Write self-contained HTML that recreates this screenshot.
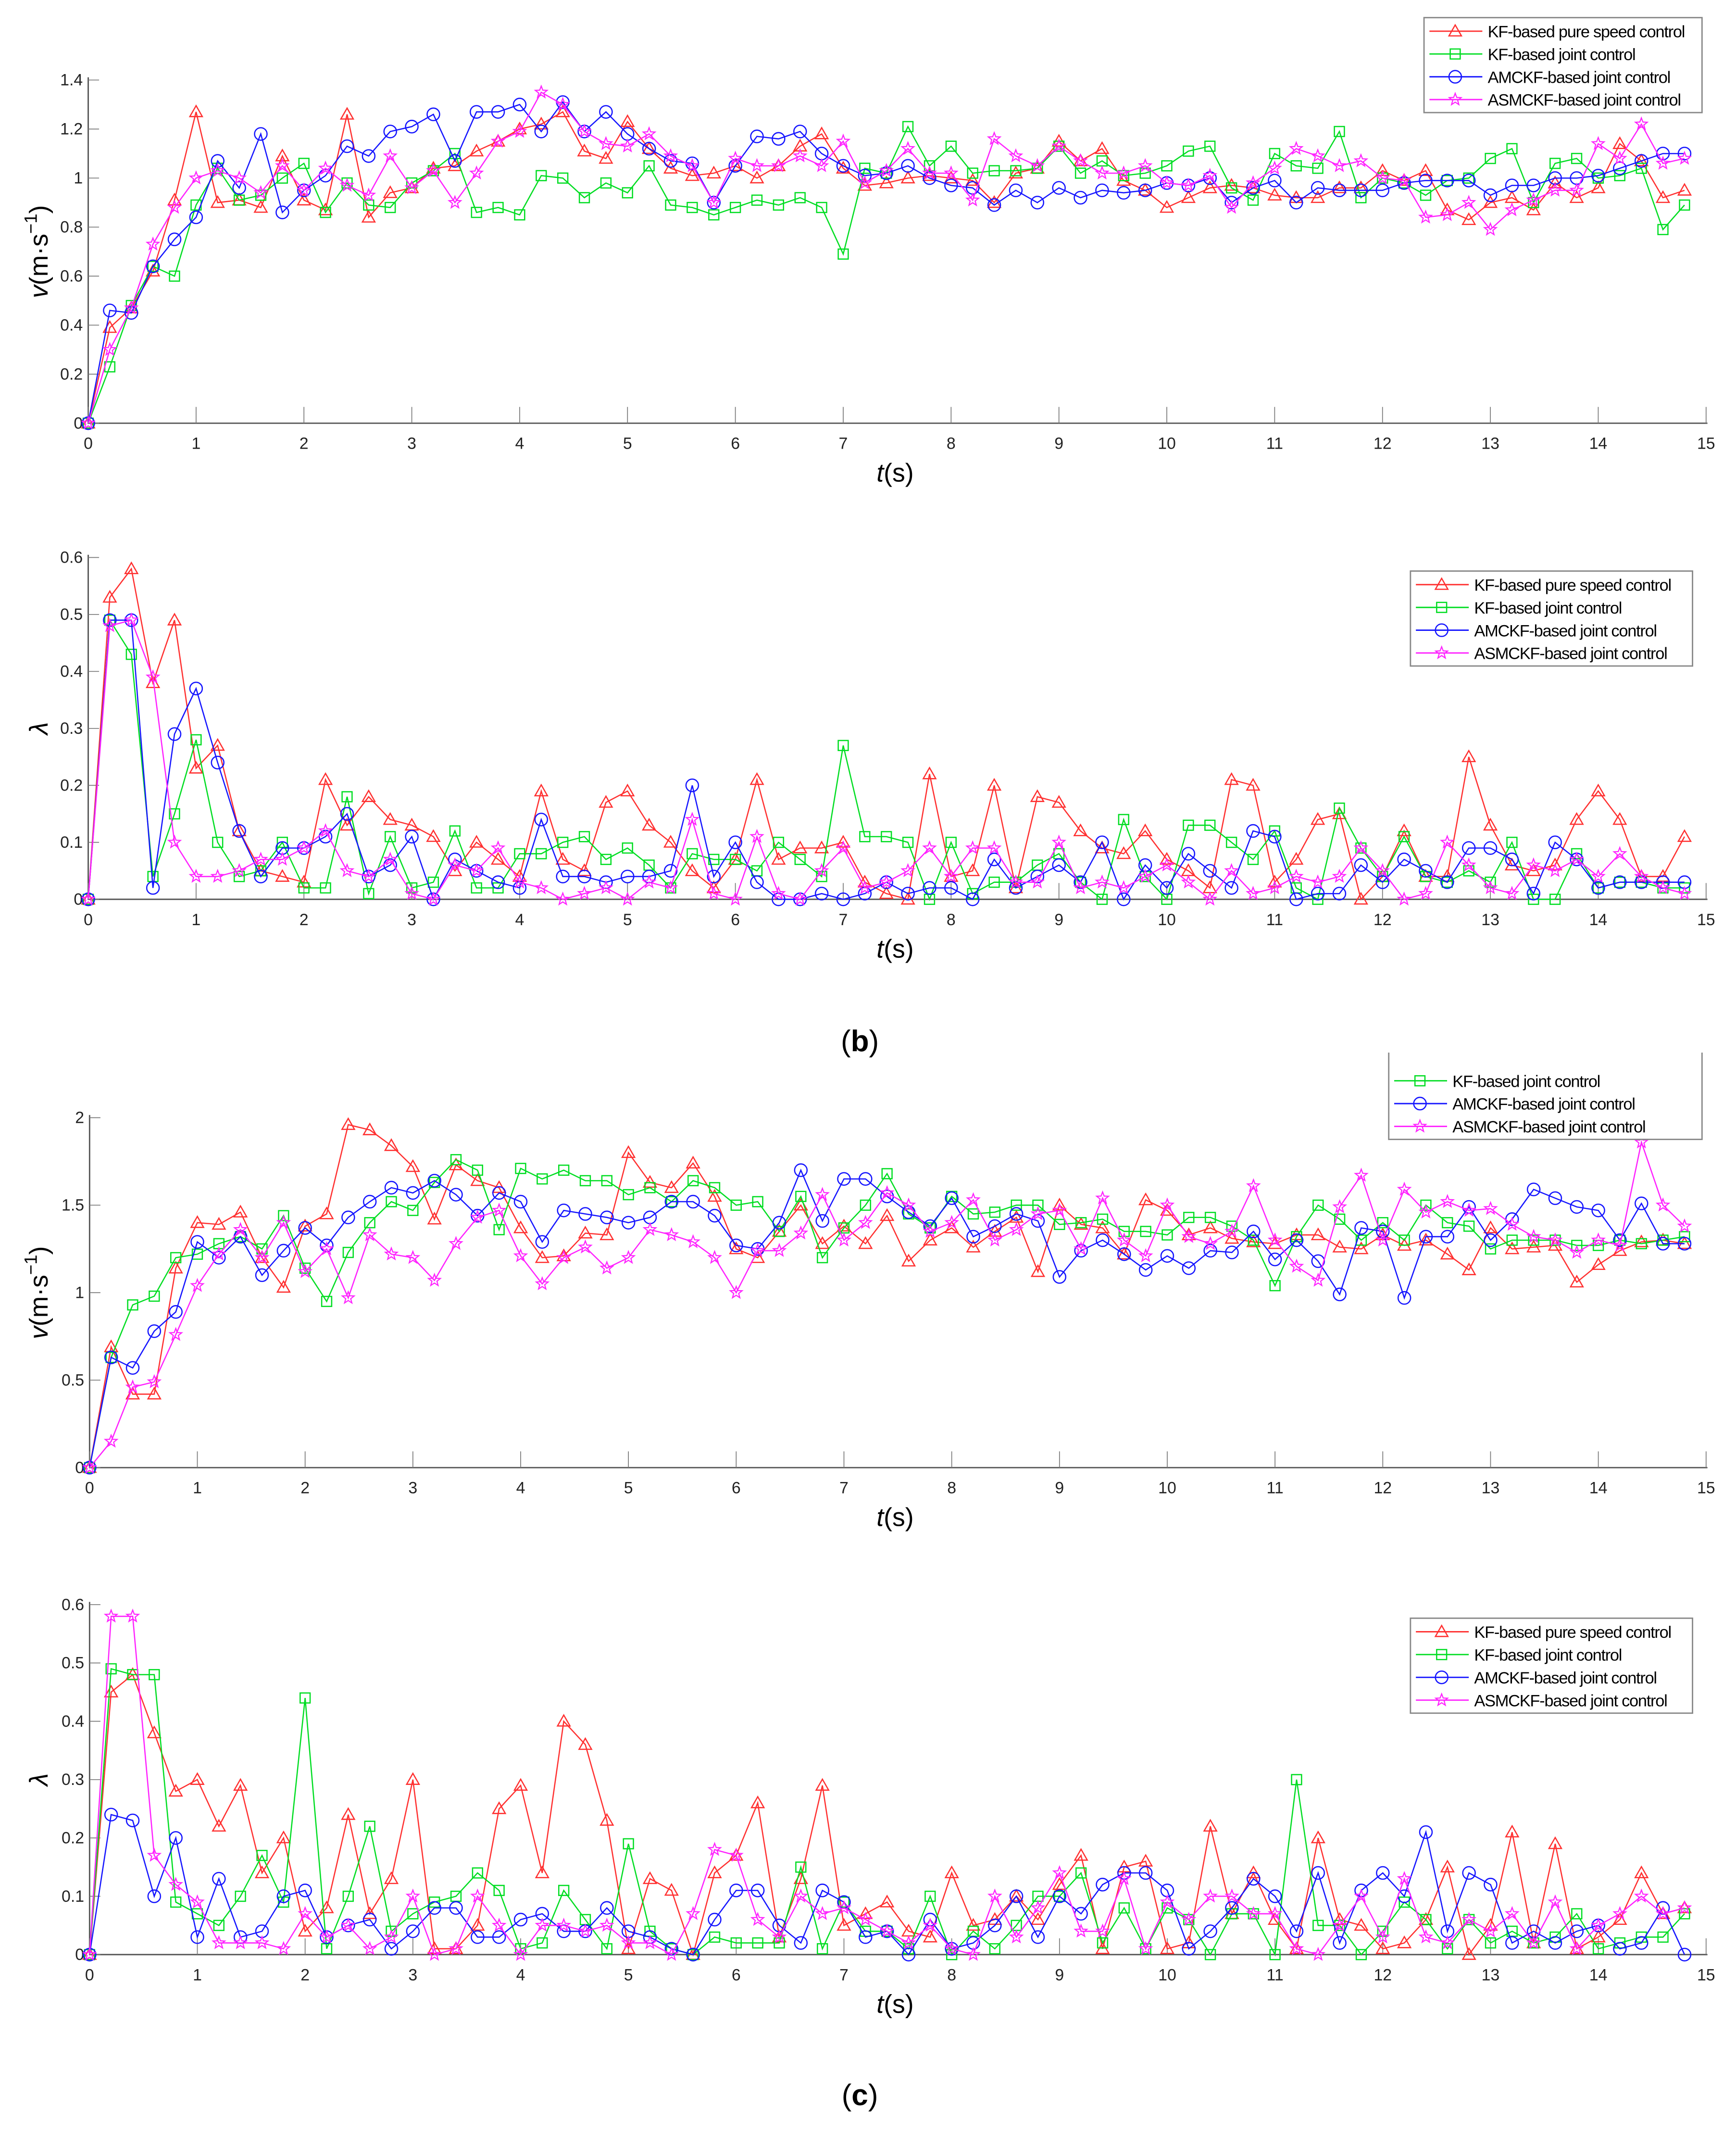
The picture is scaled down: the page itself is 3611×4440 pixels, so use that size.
<!DOCTYPE html>
<html><head><meta charset="utf-8"><style>
html,body{margin:0;padding:0;background:#fff}
svg{display:block}
text{font-family:"Liberation Sans",sans-serif}
</style></head><body>
<svg id="fig" width="3611" height="4440" viewBox="0 0 1280 1574" xmlns="http://www.w3.org/2000/svg">
<rect width="1280" height="1574" fill="#fff"/>
<text x="634" y="775" font-family="Liberation Serif" font-size="22" text-anchor="middle">(<tspan font-weight="bold">b</tspan>)</text>
<text x="634" y="1552" font-family="Liberation Serif" font-size="22" text-anchor="middle">(<tspan font-weight="bold">c</tspan>)</text>
</svg>
<script>
const timeStep = 0.2;
const seriesNames = ["KF-based pure speed control","KF-based joint control","AMCKF-based joint control","ASMCKF-based joint control"];
const v1Red=[0,0.39,0.47,0.62,0.91,1.27,0.9,0.91,0.88,1.09,0.91,0.87,1.26,0.84,0.94,0.96,1.04,1.05,1.11,1.15,1.2,1.22,1.27,1.11,1.08,1.23,1.12,1.04,1.01,1.02,1.05,1.0,1.05,1.13,1.18,1.04,0.97,0.98,1.0,1.01,1.0,0.99,0.9,1.02,1.04,1.15,1.07,1.12,0.99,0.95,0.88,0.92,0.96,0.97,0.96,0.93,0.92,0.92,0.96,0.96,1.03,0.99,1.03,0.87,0.83,0.9,0.92,0.87,0.98,0.92,0.96,1.14,1.07,0.92,0.95];
const v1Green=[0,0.23,0.48,0.64,0.6,0.89,1.04,0.91,0.93,1.0,1.06,0.86,0.98,0.89,0.88,0.98,1.03,1.1,0.86,0.88,0.85,1.01,1.0,0.92,0.98,0.94,1.05,0.89,0.88,0.85,0.88,0.91,0.89,0.92,0.88,0.69,1.04,1.02,1.21,1.05,1.13,1.02,1.03,1.03,1.04,1.13,1.02,1.07,1.01,1.02,1.05,1.11,1.13,0.96,0.91,1.1,1.05,1.04,1.19,0.92,1.0,0.98,0.93,0.99,1.0,1.08,1.12,0.9,1.06,1.08,1.0,1.01,1.04,0.79,0.89];
const v1Blue=[0,0.46,0.45,0.64,0.75,0.84,1.07,0.96,1.18,0.86,0.95,1.01,1.13,1.09,1.19,1.21,1.26,1.07,1.27,1.27,1.3,1.19,1.31,1.19,1.27,1.18,1.12,1.07,1.06,0.9,1.05,1.17,1.16,1.19,1.1,1.05,1.01,1.02,1.05,1.0,0.97,0.96,0.89,0.95,0.9,0.96,0.92,0.95,0.94,0.95,0.98,0.97,1.0,0.9,0.96,0.99,0.9,0.96,0.95,0.95,0.95,0.98,0.99,0.99,0.99,0.93,0.97,0.97,1.0,1.0,1.01,1.04,1.07,1.1,1.1];
const v1Mag=[0,0.3,0.47,0.73,0.88,1.0,1.03,1.0,0.94,1.05,0.95,1.04,0.97,0.93,1.09,0.96,1.03,0.9,1.02,1.15,1.19,1.35,1.3,1.19,1.14,1.13,1.18,1.09,1.05,0.9,1.08,1.05,1.05,1.09,1.05,1.15,0.98,1.03,1.12,1.02,1.02,0.91,1.16,1.09,1.05,1.13,1.07,1.02,1.02,1.05,0.98,0.97,1.01,0.88,0.98,1.04,1.12,1.09,1.05,1.07,1.0,0.99,0.84,0.85,0.9,0.79,0.87,0.91,0.95,0.95,1.14,1.08,1.22,1.06,1.08];
const l1Red=[0,0.53,0.58,0.38,0.49,0.23,0.27,0.12,0.05,0.04,0.03,0.21,0.13,0.18,0.14,0.13,0.11,0.05,0.1,0.07,0.04,0.19,0.07,0.05,0.17,0.19,0.13,0.1,0.05,0.02,0.07,0.21,0.07,0.09,0.09,0.1,0.03,0.01,0.0,0.22,0.04,0.05,0.2,0.02,0.18,0.17,0.12,0.09,0.08,0.12,0.07,0.05,0.02,0.21,0.2,0.03,0.07,0.14,0.15,0.0,0.04,0.12,0.04,0.04,0.25,0.13,0.06,0.05,0.06,0.14,0.19,0.14,0.04,0.04,0.11];
const l1Green=[0,0.49,0.43,0.04,0.15,0.28,0.1,0.04,0.05,0.1,0.02,0.02,0.18,0.01,0.11,0.02,0.03,0.12,0.02,0.02,0.08,0.08,0.1,0.11,0.07,0.09,0.06,0.02,0.08,0.07,0.07,0.05,0.1,0.07,0.04,0.27,0.11,0.11,0.1,0.0,0.1,0.01,0.03,0.03,0.06,0.08,0.03,0.0,0.14,0.04,0.0,0.13,0.13,0.1,0.07,0.12,0.02,0.0,0.16,0.09,0.04,0.11,0.04,0.03,0.05,0.03,0.1,0.0,0.0,0.08,0.02,0.03,0.03,0.02,0.02];
const l1Blue=[0,0.49,0.49,0.02,0.29,0.37,0.24,0.12,0.04,0.09,0.09,0.11,0.15,0.04,0.06,0.11,0.0,0.07,0.05,0.03,0.02,0.14,0.04,0.04,0.03,0.04,0.04,0.05,0.2,0.04,0.1,0.03,0.0,0.0,0.01,0.0,0.01,0.03,0.01,0.02,0.02,0.0,0.07,0.02,0.04,0.06,0.03,0.1,0.0,0.06,0.02,0.08,0.05,0.02,0.12,0.11,0.0,0.01,0.01,0.06,0.03,0.07,0.05,0.03,0.09,0.09,0.07,0.01,0.1,0.07,0.02,0.03,0.03,0.03,0.03];
const l1Mag=[0,0.48,0.49,0.39,0.1,0.04,0.04,0.05,0.07,0.07,0.09,0.12,0.05,0.04,0.07,0.01,0.0,0.06,0.05,0.09,0.03,0.02,0.0,0.01,0.02,0.0,0.03,0.02,0.14,0.01,0.0,0.11,0.01,0.0,0.05,0.09,0.02,0.03,0.05,0.09,0.04,0.09,0.09,0.03,0.03,0.1,0.02,0.03,0.02,0.04,0.06,0.03,0.0,0.05,0.01,0.02,0.04,0.03,0.04,0.09,0.05,0.0,0.01,0.1,0.06,0.02,0.01,0.06,0.05,0.07,0.04,0.08,0.04,0.02,0.01];
const v2Red=[0,0.69,0.42,0.42,1.14,1.4,1.39,1.46,1.2,1.03,1.38,1.45,1.96,1.93,1.84,1.72,1.42,1.73,1.64,1.6,1.37,1.2,1.21,1.34,1.33,1.8,1.63,1.6,1.74,1.55,1.25,1.2,1.35,1.5,1.28,1.38,1.28,1.44,1.18,1.3,1.37,1.26,1.35,1.43,1.12,1.5,1.39,1.37,1.22,1.53,1.47,1.33,1.37,1.31,1.29,1.28,1.33,1.33,1.26,1.25,1.33,1.27,1.3,1.22,1.13,1.37,1.25,1.26,1.27,1.06,1.16,1.24,1.29,1.3,1.28];
const v2Green=[0,0.63,0.93,0.98,1.2,1.22,1.28,1.32,1.25,1.44,1.14,0.95,1.23,1.4,1.52,1.47,1.63,1.76,1.7,1.36,1.71,1.65,1.7,1.64,1.64,1.56,1.6,1.52,1.64,1.6,1.5,1.52,1.35,1.55,1.2,1.37,1.5,1.68,1.45,1.37,1.55,1.45,1.46,1.5,1.5,1.39,1.4,1.42,1.35,1.35,1.33,1.43,1.43,1.38,1.3,1.04,1.32,1.5,1.42,1.3,1.4,1.3,1.5,1.4,1.38,1.25,1.3,1.3,1.3,1.27,1.27,1.3,1.28,1.3,1.32];
const v2Blue=[0,0.63,0.57,0.78,0.89,1.29,1.2,1.32,1.1,1.24,1.37,1.27,1.43,1.52,1.6,1.57,1.64,1.56,1.44,1.57,1.52,1.29,1.47,1.45,1.43,1.4,1.43,1.52,1.52,1.44,1.27,1.25,1.4,1.7,1.41,1.65,1.65,1.55,1.46,1.38,1.54,1.32,1.38,1.45,1.41,1.09,1.24,1.3,1.22,1.13,1.21,1.14,1.24,1.23,1.35,1.19,1.3,1.18,0.99,1.37,1.35,0.97,1.32,1.32,1.49,1.3,1.42,1.59,1.54,1.49,1.47,1.3,1.51,1.28,1.28];
const v2Mag=[0,0.15,0.46,0.49,0.76,1.04,1.22,1.36,1.2,1.4,1.12,1.25,0.97,1.33,1.22,1.2,1.07,1.28,1.43,1.47,1.21,1.05,1.2,1.26,1.14,1.2,1.36,1.33,1.29,1.2,1.0,1.24,1.24,1.34,1.56,1.3,1.4,1.57,1.5,1.35,1.4,1.53,1.3,1.36,1.45,1.47,1.25,1.54,1.3,1.21,1.5,1.32,1.28,1.35,1.61,1.3,1.15,1.07,1.49,1.67,1.3,1.59,1.46,1.52,1.47,1.48,1.39,1.32,1.3,1.23,1.3,1.27,1.86,1.5,1.38];
const l2Red=[0,0.45,0.48,0.38,0.28,0.3,0.22,0.29,0.14,0.2,0.04,0.08,0.24,0.07,0.13,0.3,0.01,0.01,0.05,0.25,0.29,0.14,0.4,0.36,0.23,0.01,0.13,0.11,0.0,0.14,0.17,0.26,0.03,0.13,0.29,0.05,0.07,0.09,0.04,0.03,0.14,0.05,0.06,0.1,0.06,0.12,0.17,0.01,0.15,0.16,0.01,0.02,0.22,0.07,0.14,0.06,0.01,0.2,0.06,0.05,0.01,0.02,0.06,0.15,0.0,0.05,0.21,0.02,0.19,0.01,0.03,0.06,0.14,0.07,0.08];
const l2Green=[0,0.49,0.48,0.48,0.09,0.07,0.05,0.1,0.17,0.09,0.44,0.01,0.1,0.22,0.04,0.07,0.09,0.1,0.14,0.11,0.01,0.02,0.11,0.06,0.01,0.19,0.04,0.01,0.0,0.03,0.02,0.02,0.02,0.15,0.01,0.09,0.04,0.04,0.01,0.1,0.0,0.04,0.01,0.05,0.1,0.1,0.14,0.02,0.08,0.01,0.08,0.06,0.0,0.07,0.07,0.0,0.3,0.05,0.05,0.0,0.04,0.09,0.06,0.01,0.06,0.02,0.04,0.02,0.03,0.07,0.01,0.02,0.03,0.03,0.07];
const l2Blue=[0,0.24,0.23,0.1,0.2,0.03,0.13,0.03,0.04,0.1,0.11,0.03,0.05,0.06,0.01,0.04,0.08,0.08,0.03,0.03,0.06,0.07,0.04,0.04,0.08,0.04,0.03,0.01,0.0,0.06,0.11,0.11,0.05,0.02,0.11,0.09,0.03,0.04,0.0,0.06,0.01,0.02,0.05,0.1,0.03,0.1,0.07,0.12,0.14,0.14,0.11,0.01,0.04,0.08,0.13,0.1,0.04,0.14,0.02,0.11,0.14,0.1,0.21,0.04,0.14,0.12,0.02,0.04,0.02,0.04,0.05,0.01,0.02,0.08,0.0];
const l2Mag=[0,0.58,0.58,0.17,0.12,0.09,0.02,0.02,0.02,0.01,0.07,0.03,0.05,0.01,0.03,0.1,0.0,0.01,0.1,0.05,0.0,0.05,0.05,0.04,0.05,0.02,0.02,0.0,0.07,0.18,0.17,0.06,0.03,0.1,0.07,0.08,0.06,0.04,0.02,0.05,0.01,0.0,0.1,0.03,0.08,0.14,0.04,0.04,0.13,0.01,0.09,0.06,0.1,0.1,0.07,0.07,0.01,0.0,0.05,0.1,0.03,0.13,0.03,0.02,0.06,0.04,0.07,0.02,0.09,0.01,0.05,0.07,0.1,0.07,0.08];
const xTicks=[0,1,2,3,4,5,6,7,8,9,10,11,12,13,14,15];
const vTicks1=[0,0.2,0.4,0.6,0.8,1,1.2,1.4];
const lTicks=[0,0.1,0.2,0.3,0.4,0.5,0.6];
const vTicks2=[0,0.5,1,1.5,2];

const NS="http://www.w3.org/2000/svg";
const svg=document.getElementById('fig');
const colors=["#ff3030","#00dd22","#1515ff","#ff22ff"];
const markers=["tri","sq","circ","star"];
function mk(tag,attrs,parent){const e=document.createElementNS(NS,tag);for(const k in attrs)e.setAttribute(k,attrs[k]);(parent||svg).appendChild(e);return e;}
function marker(type,x,y,col,g){
  const s=4.6;
  if(type==="circ")return mk('circle',{cx:x,cy:y,r:s,fill:'none',stroke:col,'stroke-width':0.9},g);
  if(type==="sq")return mk('rect',{x:x-s*0.8,y:y-s*0.8,width:s*1.6,height:s*1.6,fill:'none',stroke:col,'stroke-width':0.9},g);
  if(type==="tri")return mk('polygon',{points:`${x},${y-s} ${x-s},${y+s*0.75} ${x+s},${y+s*0.75}`,fill:'none',stroke:col,'stroke-width':0.9},g);
  let p=[];for(let i=0;i<10;i++){const r=i%2?s*0.42:s;const a=-Math.PI/2+i*Math.PI/5;p.push((x+r*Math.cos(a)).toFixed(2)+','+(y+r*Math.sin(a)).toFixed(2));}
  return mk('polygon',{points:p.join(' '),fill:'none',stroke:col,'stroke-width':0.8},g);
}
function chart(cfg){
  const g=mk('g',{});
  
  
  const x0=cfg.x0,x1=1258,y0=cfg.y0,yT=cfg.yT,ymax=cfg.ticks[cfg.ticks.length-1];
  const X=t=>x0+(x1-x0)*t/15;
  const Y=v=>y0-(y0-yT)*v/ymax;
  const ax=mk('path',{d:`M${x0},${yT-2} V${y0} H${x1+1}`,fill:'none',stroke:'#555','stroke-width':1},g);
  
  
  xTicks.forEach(t=>{
    mk('line',{x1:X(t),x2:X(t),y1:y0,y2:y0-12,stroke:'#777','stroke-width':0.6},g);
    const tx=mk('text',{x:X(t),y:y0+19,'font-size':12,'text-anchor':'middle',fill:'#222'},g);
    tx.textContent=t;
    
    
  });
  cfg.ticks.forEach(v=>{
    mk('line',{x1:x0,x2:x0+8,y1:Y(v),y2:Y(v),stroke:'#777','stroke-width':0.6},g);
    const tx=mk('text',{x:x0-4,y:Y(v)+4,'font-size':12,'text-anchor':'end',fill:'#222'},g);
    tx.textContent=v;
    
    
  });
  const xl=mk('text',{x:660,y:y0+43,'font-size':19,'text-anchor':'middle','font-family':'Liberation Serif'},g);
  xl.innerHTML='<tspan font-style="italic">t</tspan>(s)';
  
  
  const ymid=(y0+yT)/2;
  const yl=mk('text',{x:0,y:0,'font-size':19,'text-anchor':'middle','font-family':'Liberation Serif',transform:`translate(35,${ymid}) rotate(-90)`},g);
  if(cfg.lambda) yl.innerHTML='<tspan font-style="italic">λ</tspan>';
  else yl.innerHTML='<tspan font-style="italic">v</tspan>(m·s<tspan dy="-8" font-size="13">−1</tspan><tspan dy="8">)</tspan>';
  
  
  cfg.series.forEach((arr,si)=>{
    const sg=mk('g',{},g);
    
    
    const pts=arr.map((v,i)=>X(i*timeStep).toFixed(2)+','+Y(v).toFixed(2));
    mk('polyline',{points:pts.join(' '),fill:'none',stroke:colors[si],'stroke-width':0.9},sg);
    arr.forEach((v,i)=>{const m=marker(markers[si],X(i*timeStep),Y(v),colors[si],sg);
      
      });
  });
  const L=cfg.legend;
  const lg=mk('g',{},g);
  
  
  mk('rect',{x:L.x,y:L.y,width:L.w,height:70,fill:'#fff',stroke:'#888','stroke-width':1},lg);
  seriesNames.forEach((n,i)=>{
    const yy=L.y+10+i*16.8;
    if(L.clip && i===0) return;
    mk('line',{x1:L.x+4,x2:L.x+43,y1:yy,y2:yy,stroke:colors[i],'stroke-width':1},lg);
    marker(markers[i],L.x+23,yy,colors[i],lg);
    const t=mk('text',{x:L.x+47,y:yy+4.5,'font-size':12.2,'letter-spacing':'-0.45'},lg);
    t.textContent=n;
    
    
  });
  if(L.clip){mk('rect',{x:L.x-2,y:L.y-8,width:L.w+4,height:14,fill:'#fff'},lg);}
}
chart({name:'chart-speed-b',x0:65,y0:312,yT:59,ticks:vTicks1,series:[v1Red,v1Green,v1Blue,v1Mag],legend:{x:1050,y:13,w:205}});
chart({name:'chart-slip-b',x0:65,y0:663,yT:411,ticks:lTicks,lambda:true,series:[l1Red,l1Green,l1Blue,l1Mag],legend:{x:1040,y:421,w:208}});
chart({name:'chart-speed-c',x0:66,y0:1082,yT:824,ticks:vTicks2,series:[v2Red,v2Green,v2Blue,v2Mag],legend:{x:1024,y:770,w:231,clip:true}});
chart({name:'chart-slip-c',x0:66,y0:1441,yT:1183,ticks:lTicks,lambda:true,series:[l2Red,l2Green,l2Blue,l2Mag],legend:{x:1040,y:1193,w:208}});
</script>
</body></html>
